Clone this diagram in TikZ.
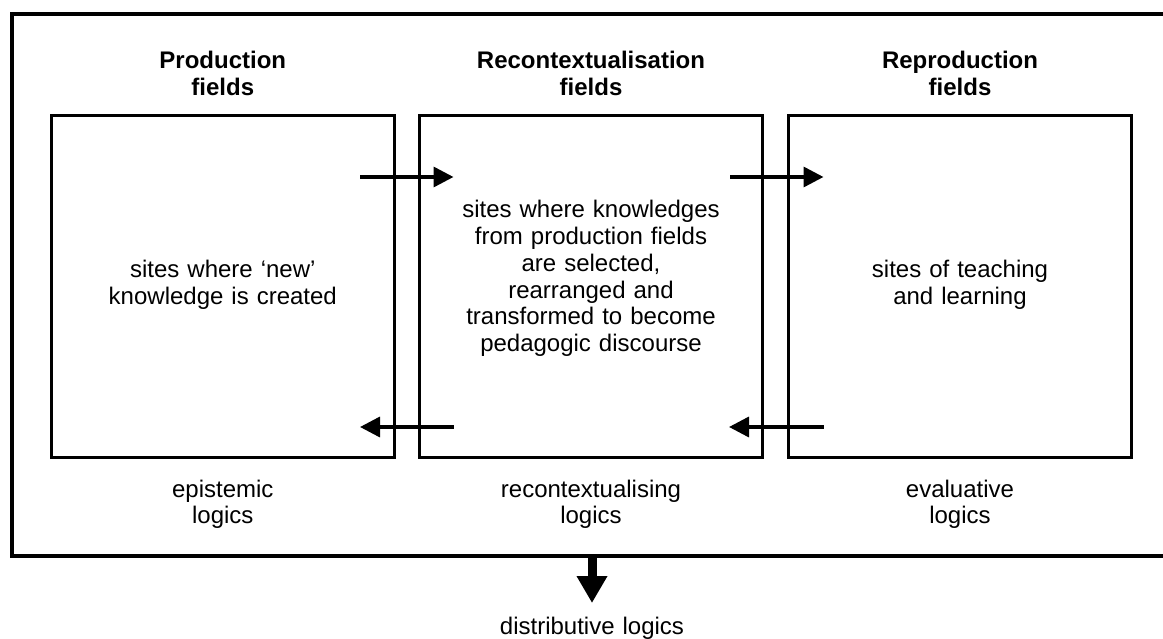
\documentclass[tikz,border=0pt]{standalone}
\usepackage{fontspec}
\setmainfont{Liberation Sans}
\usetikzlibrary{arrows.meta}
\begin{document}
\begin{tikzpicture}[x=1pt,y=-1pt,
  fieldbox/.style={draw=black,line width=3.3pt,minimum width=343pt,minimum height=342pt,inner sep=0pt},
  titletext/.style={font=\fontsize{24}{26.3}\selectfont\bfseries,text width=320pt,align=center,anchor=base,inner sep=0pt},
  bodytext/.style={font=\fontsize{24}{26.7}\selectfont,text width=320pt,align=center,anchor=base,inner sep=0pt},
  flow/.style={line width=3.5pt,-{Triangle[length=20pt,width=20pt]}},
  bigflow/.style={line width=9pt,-{Triangle[length=27pt,width=29pt]}}]
\useasboundingbox (0,0) rectangle (1163,639);
% outer frame
\draw[line width=4pt] (1200,556) -- (12,556) -- (12,14) -- (1200,14);
% boxes
\node[fieldbox] (prod) at (222.8,286.7) {};
\node[fieldbox] (recon) at (591,286.7) {};
\node[fieldbox] (repro) at (960,286.7) {};
% titles
\node[titletext] (tprod) at (222.8,69) {Production\\fields};
\node[titletext] (trecon) at (591,69) {Recontextualisation\\fields};
\node[titletext] (trepro) at (960,69) {Reproduction\\fields};
% body texts
\node[bodytext] (bprod) at (222.8,278) {sites where ‘new’\\knowledge is created};
\node[bodytext] (brecon) at (591,218) {sites where knowledges\\from production fields\\are selected,\\rearranged and\\transformed to become\\pedagogic discourse};
\node[bodytext] (brepro) at (960,278) {sites of teaching\\and learning};
% logics
\node[bodytext] (lprod) at (222.8,497) {epistemic\\logics};
\node[bodytext] (lrecon) at (591,497) {recontextualising\\logics};
\node[bodytext] (lrepro) at (960,497) {evaluative\\logics};
\node[bodytext] (ldist) at (592,634) {distributive logics};
% arrow end points
\coordinate (a1s) at (360,177);
\coordinate (a1e) at (453.5,177);
\coordinate (a2s) at (453.5,427);
\coordinate (a2e) at (360,427);
\coordinate (a3s) at (730,177);
\coordinate (a3e) at (823.5,177);
\coordinate (a4s) at (823.5,427);
\coordinate (a4e) at (729,427);
\coordinate (dtop) at (592,556);
\coordinate (dend) at (592,603);
\draw[flow] (a1s) -- (a1e);
\draw[flow] (a2s) -- (a2e);
\draw[flow] (a3s) -- (a3e);
\draw[flow] (a4s) -- (a4e);
\draw[bigflow] (dtop) -- (dend);
\end{tikzpicture}
\end{document}
